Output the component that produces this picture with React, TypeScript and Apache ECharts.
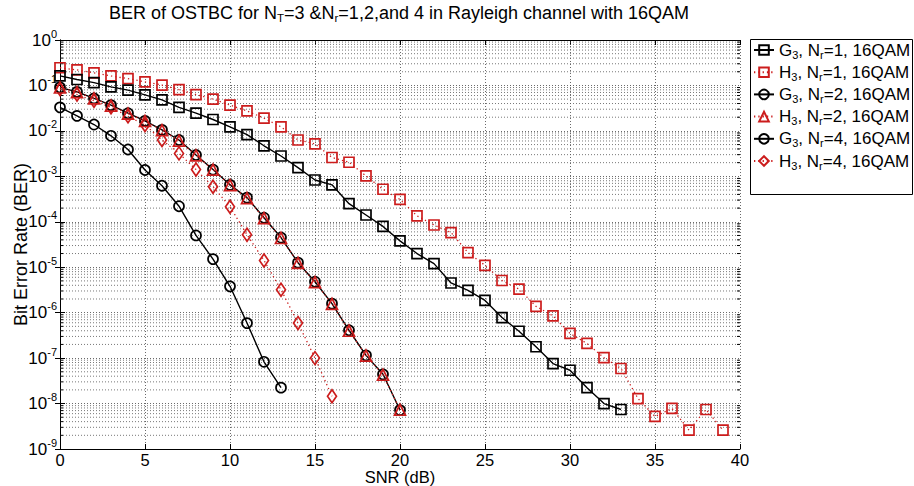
import React, { useEffect, useRef } from 'react';
import * as echarts from 'echarts';

const SNR_DB = [0, 1, 2, 3, 4, 5, 6, 7, 8, 9, 10, 11, 12, 13, 14, 15, 16, 17, 18, 19, 20,
  21, 22, 23, 24, 25, 26, 27, 28, 29, 30, 31, 32, 33, 34, 35, 36, 37, 38, 39, 40];

const X_TICKS = [0, 5, 10, 15, 20, 25, 30, 35, 40];

const berG3Nr1 = [1.62e-1, 1.35e-1, 1.15e-1, 9.3e-2, 7.9e-2, 6.2e-2, 4.8e-2, 3.3e-2, 2.45e-2, 1.78e-2,
  1.23e-2, 8.3e-3, 4.7e-3, 2.8e-3, 1.55e-3, 8.3e-4, 6.5e-4, 2.5e-4, 1.41e-4, 7.9e-5,
  3.8e-5, 2.0e-5, 1.2e-5, 4.5e-6, 3.1e-6, 1.86e-6, 7.8e-7, 3.9e-7, 1.78e-7, 7.6e-8,
  5.4e-8, 2.24e-8, 1.0e-8, 7.4e-9];

const berH3Nr1 = [2.45e-1, 2.19e-1, 1.9e-1, 1.62e-1, 1.41e-1, 1.2e-1, 1.02e-1, 8.1e-2, 6.3e-2, 5.0e-2,
  3.7e-2, 2.75e-2, 1.9e-2, 1.23e-2, 6.3e-3, 5.2e-3, 2.6e-3, 2.04e-3, 1.02e-3, 5.2e-4,
  3.1e-4, 1.35e-4, 8.5e-5, 5.8e-5, 2.1e-5, 1.1e-5, 5.1e-6, 3.3e-6, 1.38e-6, 8.5e-7,
  3.5e-7, 2.1e-7, 1.02e-7, 5.9e-8, 1.29e-8, 5.2e-9, 7.8e-9, 2.6e-9, 7.4e-9, 2.6e-9];

const berG3Nr2 = [9.1e-2, 7.2e-2, 5.2e-2, 3.7e-2, 2.45e-2, 1.66e-2, 1.05e-2, 6.3e-3, 2.95e-3, 1.41e-3,
  6.5e-4, 3.4e-4, 1.23e-4, 4.5e-5, 1.26e-5, 4.8e-6, 1.58e-6, 4.1e-7, 1.15e-7, 4.4e-8, 7.2e-9];

const berH3Nr2 = [9.0e-2, 7.1e-2, 5.2e-2, 3.6e-2, 2.4e-2, 1.65e-2, 1.04e-2, 6.1e-3, 2.9e-3, 1.4e-3,
  6.4e-4, 3.3e-4, 1.2e-4, 4.4e-5, 1.25e-5, 4.7e-6, 1.56e-6, 4.0e-7, 1.14e-7, 4.3e-8, 7.3e-9];

const berG3Nr4 = [3.3e-2, 2.14e-2, 1.38e-2, 7.8e-3, 3.9e-3, 1.38e-3, 6.2e-4, 2.2e-4, 5.0e-5, 1.51e-5,
  3.8e-6, 5.9e-7, 8.3e-8, 2.24e-8];

const berH3Nr4 = [8.3e-2, 6.3e-2, 4.6e-2, 3.3e-2, 2.1e-2, 1.35e-2, 6.3e-3, 3.2e-3, 1.41e-3, 5.9e-4,
  2.14e-4, 5.2e-5, 1.41e-5, 3.2e-6, 5.9e-7, 1.0e-7, 1.45e-8];

const SERIES_NAMES = ['G3Nr1', 'H3Nr1', 'G3Nr2', 'H3Nr2', 'G3Nr4', 'H3Nr4'];
const LEGEND_LABELS: Record<string, string> = {
  G3Nr1: 'G{s|3}, N{s|r}=1, 16QAM',
  H3Nr1: 'H{s|3}, N{s|r}=1, 16QAM',
  G3Nr2: 'G{s|3}, N{s|r}=2, 16QAM',
  H3Nr2: 'H{s|3}, N{s|r}=2, 16QAM',
  G3Nr4: 'G{s|3}, N{s|r}=4, 16QAM',
  H3Nr4: 'H{s|3}, N{s|r}=4, 16QAM',
};

const TITLE = 'BER of OSTBC for N{s|T}=3 &N{s|r}=1,2,and 4 in Rayleigh channel with 16QAM';
const X_NAME = 'SNR (dB)';
const Y_NAME = 'Bit Error Rate (BER)';

const FONT = '"Liberation Sans", Arial, Helvetica, sans-serif';
const RED = '#cc1c1c';
const BLACK = '#000000';

// minor log grid positions (2..9 x 10^k)
const MINOR_VALUES: number[] = [];
for (let k = -9; k < 0; k++) {
  for (let m = 2; m <= 9; m++) MINOR_VALUES.push(m * Math.pow(10, k));
}

function pairs(vals: number[]) {
  return vals.map((v, i) => [SNR_DB[i], v]);
}

export default function App() {
  const ref = useRef<HTMLDivElement>(null);
  useEffect(() => {
    if (!ref.current) return;
    const chart = echarts.init(ref.current, undefined, { renderer: 'svg' });

    const blackSolid = { color: BLACK, width: 1.4, type: 'solid' as const };
    const redDot = { color: RED, width: 1.3, type: [1.3, 3] as any };

    const mk = (name: string, vals: number[], symbol: string, size: any, color: string, lineStyle: any, z: number) => ({
      name,
      type: 'line',
      data: pairs(vals),
      symbol,
      symbolSize: size,
      showSymbol: true,
      lineStyle,
      itemStyle: { color: 'rgba(0,0,0,0)', borderColor: color, borderWidth: 1.7 },
      z,
      xAxisIndex: 0,
      yAxisIndex: 0,
      emphasis: { disabled: true },
    });

    const option: any = {
      animation: false,
      backgroundColor: '#ffffff',
      grid: { left: 60, right: 174, top: 40, bottom: 37, containLabel: false, outerBoundsMode: 'none' },
      graphic: [
        {
          type: 'text',
          x: 399,
          y: 13,
          style: {
            text: TITLE,
            x: 0,
            y: 0,
            align: 'center',
            verticalAlign: 'middle',
            fontFamily: FONT,
            fontSize: 18,
            fill: '#000',
            rich: {
              s: { fontSize: 11.5, lineHeight: 12, verticalAlign: 'bottom', fontFamily: FONT, fill: '#000' },
            },
            lineHeight: 21,
          },
        },
        {
          type: 'rect',
          shape: { x: 750.5, y: 39.5, width: 162, height: 155 },
          style: { fill: '#fff', stroke: '#000', lineWidth: 1 },
          z: 0,
        },
      ],
      legend: {
        data: SERIES_NAMES,
        orient: 'vertical',
        left: 753,
        top: 40,
        padding: 0,
        itemWidth: 20,
        itemHeight: 12,
        itemGap: 2.2,
        z: 5,
        selectedMode: false,
        formatter: (n: string) => LEGEND_LABELS[n],
        textStyle: {
          fontFamily: FONT,
          fontSize: 17,
          color: '#000',
          rich: {
            s: { fontSize: 11, lineHeight: 11, verticalAlign: 'bottom', fontFamily: FONT, color: '#000' },
          },
          lineHeight: 20,
        },
      },
      xAxis: [
        {
          type: 'value',
          min: 0,
          max: 40,
          interval: 5,
          position: 'bottom',
          name: X_NAME,
          nameLocation: 'middle',
          nameGap: 20,
          nameMoveOverlap: false,
          nameTextStyle: { fontFamily: FONT, fontSize: 16.5, lineHeight: 16, color: '#000' },
          axisLine: { show: true, lineStyle: { color: '#000', width: 1 } },
          axisTick: { show: true, inside: true, length: 5, lineStyle: { color: '#000' } },
          axisLabel: {
            fontFamily: FONT,
            fontSize: 16.5,
            lineHeight: 15,
            color: '#000',
            margin: 3,
            customValues: X_TICKS,
          },
          splitLine: { show: true, lineStyle: { color: '#444', width: 0.8, type: [1, 2] } },
        },
        {
          type: 'value',
          min: 0,
          max: 40,
          interval: 5,
          position: 'top',
          axisLine: { show: true, lineStyle: { color: '#000', width: 1 } },
          axisTick: { show: true, inside: true, length: 5, lineStyle: { color: '#000' } },
          axisLabel: { show: false },
          splitLine: { show: false },
        },
      ],
      yAxis: [
        {
          type: 'log',
          logBase: 10,
          min: 1e-9,
          max: 1,
          position: 'left',
          name: Y_NAME,
          nameLocation: 'middle',
          nameGap: 30,
          nameMoveOverlap: false,
          nameRotate: 90,
          nameTextStyle: { fontFamily: FONT, fontSize: 18, color: '#000' },
          axisLine: { show: true, lineStyle: { color: '#000', width: 1 } },
          axisTick: { show: true, inside: true, length: 5, lineStyle: { color: '#000' } },
          axisLabel: {
            margin: 3,
            formatter: (v: number) => {
              const e = Math.round(Math.log10(v));
              return `{b|10}{e|${e}}`;
            },
            rich: {
              b: { fontFamily: FONT, fontSize: 17, lineHeight: 24, color: '#000' },
              e: { fontFamily: FONT, fontSize: 11, lineHeight: 11, verticalAlign: 'top', color: '#000' },
            },
          },
          splitLine: { show: true, lineStyle: { color: '#444', width: 0.8, type: [1, 2] } },
        },
        {
          type: 'log',
          logBase: 10,
          min: 1e-9,
          max: 1,
          position: 'right',
          axisLine: { show: true, lineStyle: { color: '#000', width: 1 } },
          axisTick: { show: true, inside: true, length: 5, lineStyle: { color: '#000' } },
          axisLabel: { show: false },
          splitLine: { show: false },
        },
      ],
      series: [
        {
          name: 'minorGrid',
          type: 'custom',
          xAxisIndex: 0,
          yAxisIndex: 0,
          silent: true,
          z: 1,
          data: MINOR_VALUES.map((v) => [0, v]),
          encode: { x: 0, y: 1 },
          renderItem: (params: any, api: any) => {
            const v = api.value(1);
            const p1 = api.coord([0, v]);
            const p2 = api.coord([40, v]);
            return {
              type: 'group',
              children: [
                {
                  type: 'line',
                  shape: { x1: p1[0], y1: p1[1], x2: p2[0], y2: p2[1] },
                  style: { stroke: '#555', lineWidth: 0.8, lineDash: [1, 2] },
                },
                {
                  type: 'line',
                  shape: { x1: p1[0], y1: p1[1], x2: p1[0] + 3, y2: p1[1] },
                  style: { stroke: '#000', lineWidth: 1 },
                },
                {
                  type: 'line',
                  shape: { x1: p2[0] - 3, y1: p2[1], x2: p2[0], y2: p2[1] },
                  style: { stroke: '#000', lineWidth: 1 },
                },
              ],
            };
          },
        },
        mk('G3Nr1', berG3Nr1, 'rect', 10, BLACK, blackSolid, 4),
        mk('H3Nr1', berH3Nr1, 'rect', 10, RED, redDot, 3),
        mk('G3Nr2', berG3Nr2, 'circle', 10, BLACK, blackSolid, 4),
        mk('H3Nr2', berH3Nr2, 'triangle', 11, RED, redDot, 5),
        mk('G3Nr4', berG3Nr4, 'circle', 10, BLACK, blackSolid, 4),
        mk('H3Nr4', berH3Nr4, 'diamond', [9, 13], RED, redDot, 3),
      ],
    };
    chart.setOption(option);
    return () => chart.dispose();
  }, []);

  return (
    <div
      ref={ref}
      style={{ position: 'fixed', left: 0, top: 0, width: 914, height: 486, background: '#fff' }}
    />
  );
}
